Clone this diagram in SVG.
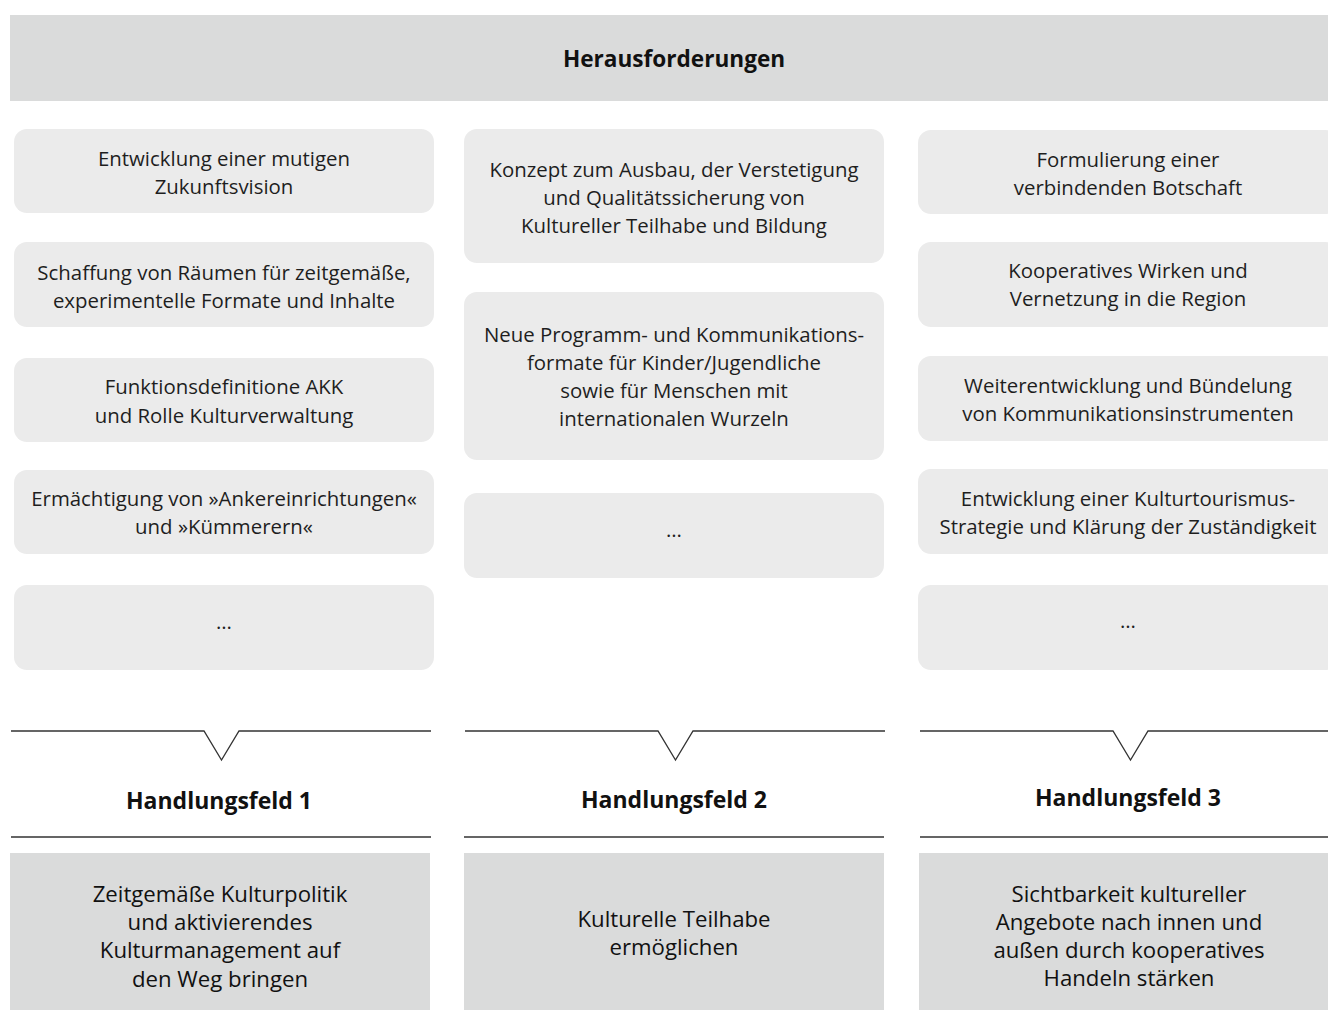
<svg xmlns="http://www.w3.org/2000/svg" width="1328" height="1010" viewBox="0 0 1328 1010">
<style>
.hdr{fill:#dadbdb}
.box{fill:#ebebeb}
.res{fill:#dadbdb}
.t{font-family:"Open Sans","Noto Sans","Liberation Sans",sans-serif;font-size:20.4px;font-weight:400;fill:#1e1e1e;text-anchor:middle}
.b{font-family:"Open Sans","Noto Sans","Liberation Sans",sans-serif;font-size:23px;font-weight:700;fill:#111;text-anchor:middle}
.h{font-size:22.6px}
.r{font-family:"Open Sans","Noto Sans","Liberation Sans",sans-serif;font-size:22.2px;font-weight:500;fill:#111;text-anchor:middle}
.ln{fill:none;stroke:#333;stroke-width:1.3}
</style>
<rect width="1328" height="1010" fill="#fff"/>
<g id="header">
<rect class="hdr" x="10" y="15" width="1330" height="86"/>
<text class="b h" x="674" y="67">Herausforderungen</text>
</g>
<g id="l1"><rect class="box" x="14" y="129" width="420" height="84" rx="13"/>
<text class="t" x="224" y="166">Entwicklung einer mutigen</text><text class="t" x="224" y="194">Zukunftsvision</text></g>
<g id="l2"><rect class="box" x="14" y="242" width="420" height="85" rx="13"/>
<text class="t" x="224" y="280">Schaffung von Räumen für zeitgemäße,</text><text class="t" x="224" y="308">experimentelle Formate und Inhalte</text></g>
<g id="l3"><rect class="box" x="14" y="358" width="420" height="84" rx="13"/>
<text class="t" x="224" y="394">Funktionsdefinitione AKK</text><text class="t" x="224" y="423">und Rolle Kulturverwaltung</text></g>
<g id="l4"><rect class="box" x="14" y="470" width="420" height="84" rx="13"/>
<text class="t" x="224" y="506">Ermächtigung von »Ankereinrichtungen«</text><text class="t" x="224" y="534">und »Kümmerern«</text></g>
<g id="l5"><rect class="box" x="14" y="585" width="420" height="85" rx="13"/>
<text class="t" x="224" y="629">…</text></g>
<g id="m1"><rect class="box" x="464" y="129" width="420" height="134" rx="13"/>
<text class="t" x="674" y="177">Konzept zum Ausbau, der Verstetigung</text><text class="t" x="674" y="205">und Qualitätssicherung von</text><text class="t" x="674" y="233">Kultureller Teilhabe und Bildung</text></g>
<g id="m2"><rect class="box" x="464" y="292" width="420" height="168" rx="13"/>
<text class="t" x="674" y="342">Neue Programm- und Kommunikations-</text><text class="t" x="674" y="370">formate für Kinder/Jugendliche</text><text class="t" x="674" y="398">sowie für Menschen mit</text><text class="t" x="674" y="426">internationalen Wurzeln</text></g>
<g id="m3"><rect class="box" x="464" y="493" width="420" height="85" rx="13"/>
<text class="t" x="674" y="537">…</text></g>
<g id="r1"><rect class="box" x="918" y="130" width="420" height="84" rx="13"/>
<text class="t" x="1128" y="167">Formulierung einer</text><text class="t" x="1128" y="195">verbindenden Botschaft</text></g>
<g id="r2"><rect class="box" x="918" y="242" width="420" height="85" rx="13"/>
<text class="t" x="1128" y="278">Kooperatives Wirken und</text><text class="t" x="1128" y="306">Vernetzung in die Region</text></g>
<g id="r3"><rect class="box" x="918" y="356" width="420" height="85" rx="13"/>
<text class="t" x="1128" y="393">Weiterentwicklung und Bündelung</text><text class="t" x="1128" y="421">von Kommunikationsinstrumenten</text></g>
<g id="r4"><rect class="box" x="918" y="469" width="420" height="85" rx="13"/>
<text class="t" x="1128" y="506">Entwicklung einer Kulturtourismus-</text><text class="t" x="1128" y="534">Strategie und Klärung der Zuständigkeit</text></g>
<g id="r5"><rect class="box" x="918" y="585" width="420" height="85" rx="13"/>
<text class="t" x="1128" y="628">…</text></g>
<g id="connectors">
<path class="ln" d="M11,731 H204 L221.5,760 L239,731 H431"/>
<path class="ln" d="M465,731 H658 L675.5,760 L693,731 H885"/>
<path class="ln" d="M920,731 H1113 L1130.5,760 L1148,731 H1340"/>
<path class="ln" d="M11,837 H431 M464,837 H884 M920,837 H1340"/>
</g>
<g id="hf1"><text class="b" x="219" y="809">Handlungsfeld 1</text></g>
<g id="hf2"><text class="b" x="674" y="808">Handlungsfeld 2</text></g>
<g id="hf3"><text class="b" x="1128" y="806">Handlungsfeld 3</text></g>
<g id="res1"><rect class="res" x="10" y="853" width="420" height="160"/>
<text class="r" x="220" y="902">Zeitgemäße Kulturpolitik</text><text class="r" x="220" y="930">und aktivierendes</text><text class="r" x="220" y="958">Kulturmanagement auf</text><text class="r" x="220" y="987">den Weg bringen</text></g>
<g id="res2"><rect class="res" x="464" y="853" width="420" height="160"/>
<text class="r" x="674" y="927">Kulturelle Teilhabe</text><text class="r" x="674" y="955">ermöglichen</text></g>
<g id="res3"><rect class="res" x="919" y="853" width="420" height="160"/>
<text class="r" x="1129" y="902">Sichtbarkeit kultureller</text><text class="r" x="1129" y="930">Angebote nach innen und</text><text class="r" x="1129" y="958">außen durch kooperatives</text><text class="r" x="1129" y="986">Handeln stärken</text></g>
</svg>
